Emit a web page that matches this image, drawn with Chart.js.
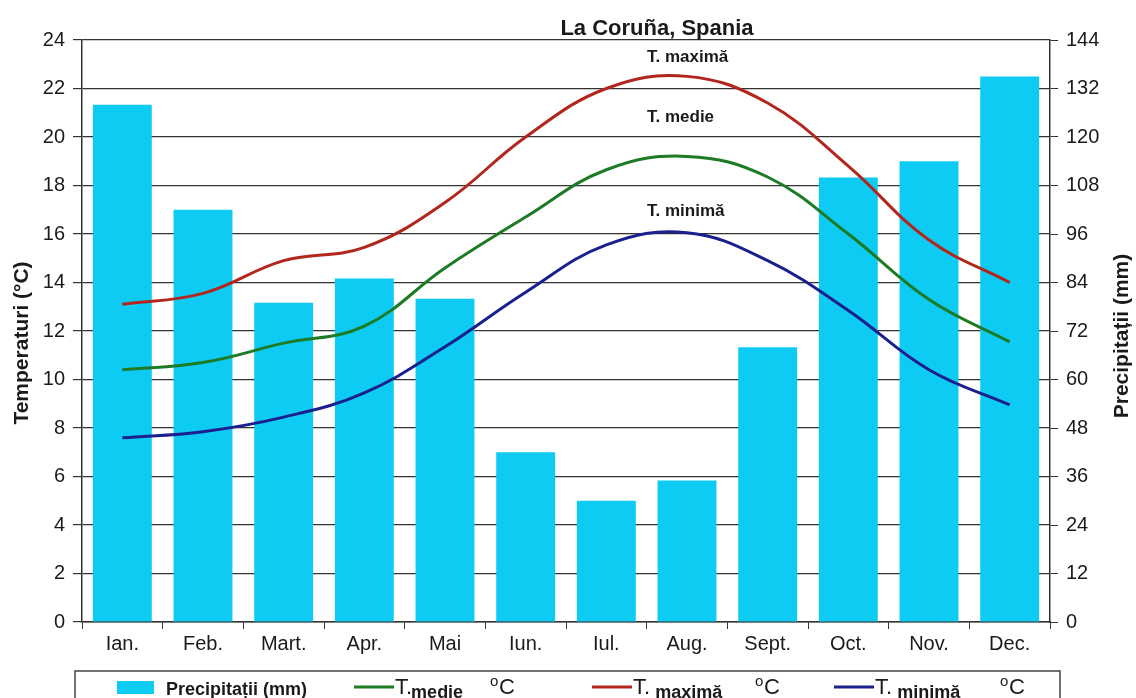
<!DOCTYPE html>
<html>
<head>
<meta charset="utf-8">
<script src="https://cdn.jsdelivr.net/npm/chart.js@4.4.0/dist/chart.umd.min.js"></script>
<style>
  html, body { margin: 0; padding: 0; background: #fff; }
  #wrap { width: 1136px; height: 698px; position: relative; }
</style>
</head>
<body>
<div id="wrap"><canvas id="climate"></canvas></div>
<script>
var months = ["Ian.", "Feb.", "Mart.", "Apr.", "Mai", "Iun.", "Iul.", "Aug.", "Sept.", "Oct.", "Nov.", "Dec."];
var precipitation = [128, 102, 79, 85, 80, 42, 30, 35, 68, 110, 114, 135];
var tempMax = [13.1, 13.55, 14.9, 15.45, 17.3, 20.0, 22.0, 22.5, 21.4, 18.8, 15.75, 14.0];
var tempMean = [10.4, 10.7, 11.5, 12.2, 14.6, 16.7, 18.65, 19.2, 18.35, 16.0, 13.3, 11.55];
var tempMin = [7.6, 7.85, 8.45, 9.45, 11.35, 13.6, 15.55, 16.05, 14.9, 12.85, 10.4, 8.95];
var tempTicks = [0, 2, 4, 6, 8, 10, 12, 14, 16, 18, 20, 22, 24];
var rainTicks = [0, 12, 24, 36, 48, 60, 72, 84, 96, 108, 120, 132, 144];

(function(Window) {
  var App = {
    colors: {
      bar: "#0dcbf2",
      max: "#b3261e",
      mean: "#1d7a25",
      min: "#1b1f8f",
      ink: "#1a1a1a"
    },
    font: "'Liberation Sans', Arial, sans-serif",

    // draws "oC" with a raised small o
    degC: function(ctx, x, y) {
      ctx.font = "15px " + App.font;
      ctx.fillText("o", x, y - 8);
      ctx.font = "22px " + App.font;
      ctx.fillText("C", x + 9, y);
    },

    // labels, titles and the legend box are painted after the chart
    extras: {
      id: "extras",
      afterDraw: function(chart) {
        var ctx = chart.ctx;
        var c = App.colors;
        var x = chart.scales.x, y = chart.scales.y;
        ctx.save();
        ctx.fillStyle = c.ink;
        ctx.textAlign = "center";
        ctx.textBaseline = "middle";

        ctx.font = "bold 22px " + App.font;
        ctx.fillText("La Coruña, Spania", 657, 29);

        // curve names
        ctx.textAlign = "left";
        ctx.font = "bold 17px " + App.font;
        var ax = x.getPixelForValue(7) - 40;
        ctx.fillText("T. maximă", ax, y.getPixelForValue(23.3));
        ctx.fillText("T. medie", ax, y.getPixelForValue(20.8));
        ctx.fillText("T. minimă", ax, y.getPixelForValue(16.95));

        // axis titles
        ctx.textAlign = "center";
        ctx.font = "bold 21px " + App.font;
        ctx.save();
        ctx.translate(22, 343);
        ctx.rotate(-Math.PI / 2);
        ctx.fillText("Temperaturi (°C)", 0, 0);
        ctx.restore();
        ctx.save();
        ctx.translate(1122, 336);
        ctx.rotate(-Math.PI / 2);
        ctx.fillText("Precipitații (mm)", 0, 0);
        ctx.restore();

        // legend
        ctx.strokeStyle = "#444";
        ctx.lineWidth = 1.5;
        ctx.strokeRect(75, 671, 985, 40);
        ctx.fillStyle = c.bar;
        ctx.fillRect(117, 681, 37, 13);
        ctx.textAlign = "left";
        ctx.textBaseline = "alphabetic";
        ctx.fillStyle = c.ink;
        ctx.font = "bold 18px " + App.font;
        ctx.fillText("Precipitații (mm)", 166, 695);

        var items = [
          { x: 354, color: c.mean, small: "medie", dot: ".", deg: 490 },
          { x: 592, color: c.max, small: "maximă", dot: ". ", deg: 755 },
          { x: 834, color: c.min, small: "minimă", dot: ". ", deg: 1000 }
        ];
        items.forEach(function(it) {
          ctx.strokeStyle = it.color;
          ctx.lineWidth = 3;
          ctx.beginPath();
          ctx.moveTo(it.x, 687);
          ctx.lineTo(it.x + 40, 687);
          ctx.stroke();
          ctx.fillStyle = c.ink;
          ctx.font = "22px " + App.font;
          ctx.fillText("T" + it.dot, it.x + 41, 694);
          var w = ctx.measureText("T" + it.dot).width;
          ctx.font = "bold 18px " + App.font;
          ctx.fillText(it.small, it.x + 41 + w - 1, 698);
          App.degC(ctx, it.deg, 694);
        });
        ctx.restore();
      }
    },

    lineSet: function(label, data, color) {
      return {
        type: "line",
        label: label,
        data: data,
        borderColor: color,
        backgroundColor: color,
        borderWidth: 3,
        pointRadius: 0,
        tension: 0.4,
        yAxisID: "y",
        order: 1
      };
    },

    graph: function() {
      var c = App.colors;
      var tickFont = { family: App.font, size: 20 };
      new Chart(document.getElementById("climate"), {
        type: "bar",
        data: {
          labels: months,
          datasets: [
            {
              label: "Precipitații (mm)",
              data: precipitation,
              backgroundColor: c.bar,
              barPercentage: 0.73,
              categoryPercentage: 1,
              yAxisID: "y2",
              order: 2
            },
            App.lineSet("T. maximă", tempMax, c.max),
            App.lineSet("T. medie", tempMean, c.mean),
            App.lineSet("T. minimă", tempMin, c.min)
          ]
        },
        options: {
          responsive: true,
          maintainAspectRatio: false,
          animation: false,
          layout: { padding: { top: 40, bottom: 36, left: 0, right: 0 } },
          plugins: { legend: { display: false }, tooltip: { enabled: false }, title: { display: false } },
          scales: {
            x: {
              offset: true,
              grid: { display: true, drawOnChartArea: false, offset: true, tickLength: 7, color: "#333" },
              border: { color: "#333", width: 1.5 },
              ticks: { color: c.ink, font: tickFont, padding: 3, maxRotation: 0 },
              afterFit: function(s) { s.height = 40; }
            },
            y: {
              position: "left",
              min: 0, max: 24,
              afterBuildTicks: function(s) { s.ticks = tempTicks.map(function(v) { return { value: v }; }); },
              grid: { color: "#333", lineWidth: 1.2, tickLength: 9 },
              border: { color: "#333", width: 1.5 },
              ticks: { color: c.ink, font: tickFont, padding: 8 },
              afterFit: function(s) { s.width = 82; }
            },
            y2: {
              position: "right",
              min: 0, max: 144,
              afterBuildTicks: function(s) { s.ticks = rainTicks.map(function(v) { return { value: v }; }); },
              grid: { drawOnChartArea: false, color: "#333", tickLength: 8 },
              border: { color: "#333", width: 1.5 },
              ticks: { color: c.ink, font: tickFont, padding: 8 },
              afterFit: function(s) { s.width = 86; }
            }
          }
        },
        plugins: [App.extras]
      });
    },

    init: function() {
      App.graph();
    }
  };
  Window.App = App;
})(window);

App.init();
</script>
</body>
</html>
